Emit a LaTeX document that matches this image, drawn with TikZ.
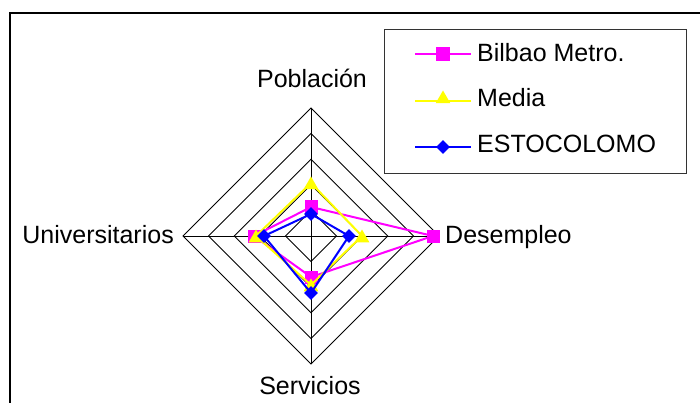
\documentclass[tikz,border=0pt]{standalone}
\usepackage{fontspec}
\setmainfont{Liberation Sans}
\usetikzlibrary{shapes.geometric}
\definecolor{cmag}{RGB}{255,0,255}
\definecolor{cyel}{RGB}{255,255,0}
\definecolor{cblu}{RGB}{0,0,255}
\begin{document}
\begin{tikzpicture}[x=1pt,y=-1pt,
  lbl/.style={font=\fontsize{25}{30}\selectfont, inner sep=0pt},
  grid/.style={line width=0.9pt, black},
  sermag/.style={line width=2pt, cmag},
  seryel/.style={line width=2pt, cyel},
  serblu/.style={line width=2pt, cblu},
  mksq/.style={rectangle, fill=cmag, minimum size=13pt, inner sep=0pt},
  mktri/.style={regular polygon, regular polygon sides=3, fill=cyel, minimum size=17pt, inner sep=0pt},
  mkdia/.style={diamond, fill=cblu, minimum width=14pt, minimum height=14pt, inner sep=0pt}]
\useasboundingbox (0,0) rectangle (700,403);
\draw[line width=1.2pt] (10,403) -- (10,13) -- (700,13);
% grid
\coordinate (c) at (311,236);
\foreach \k in {1,...,5}{
  \draw[grid] (311,{236-25.6*\k}) -- ({311+25.6*\k},236) -- (311,{236+25.6*\k}) -- ({311-25.6*\k},236) -- cycle;
}
\coordinate (top) at (311,108);
\coordinate (bot) at (311,364);
\coordinate (lft) at (183,236);
\coordinate (rgt) at (439,236);
\draw[grid] (top) -- (bot);
\draw[grid] (lft) -- (rgt);
% axis labels
\node[lbl, anchor=base] (lP) at (312,88) {Población};
\node[lbl, anchor=base east] (lU) at (174,243) {Universitarios};
\node[lbl, anchor=base west] (lD) at (445,243) {Desempleo};
\node[lbl, anchor=base] (lS) at (310,394) {Servicios};
% Bilbao
\coordinate (bP) at (311,207);
\coordinate (bD) at (433,236);
\coordinate (bS) at (311,277);
\coordinate (bU) at (254,236);
\draw[sermag] (bP) -- (bD) -- (bS) -- (bU) -- cycle;
\foreach \p in {bP,bD,bS,bU}{\node[mksq] at (\p) {};}
% Media
\coordinate (mP) at (311,183);
\coordinate (mD) at (362,236);
\coordinate (mS) at (311,285);
\coordinate (mU) at (256,236);
\draw[seryel] (mP) -- (mD) -- (mS) -- (mU) -- cycle;
\foreach \p in {mP,mD,mS,mU}{\node[mktri] at ([yshift=-2pt]\p) {};}
% Estocolmo
\coordinate (eP) at (311,214);
\coordinate (eD) at (349,236);
\coordinate (eS) at (311,293);
\coordinate (eU) at (264,236);
\draw[serblu] (eP) -- (eD) -- (eS) -- (eU) -- cycle;
\foreach \p in {eP,eD,eS,eU}{\node[mkdia] at (\p) {};}
% legend
\node[draw=black!80, line width=1pt, minimum width=302pt, minimum height=144pt, inner sep=0pt, anchor=north west] (leg) at (384,29) {};
\coordinate (l1a) at (415,54);
\coordinate (l1b) at (471,54);
\coordinate (l2a) at (415,101);
\coordinate (l2b) at (471,101);
\coordinate (l3a) at (415,147);
\coordinate (l3b) at (471,147);
\draw[sermag] (l1a) -- (l1b);
\node[mksq, minimum size=14pt] (k1) at (443,54) {};
\draw[seryel] (l2a) -- (l2b);
\node[mktri] (k2) at (443,99) {};
\draw[serblu] (l3a) -- (l3b);
\node[mkdia] (k3) at (443,147) {};
\node[lbl, anchor=base west] (t1) at (477,62) {Bilbao Metro.};
\node[lbl, anchor=base west] (t2) at (477,107) {Media};
\node[lbl, anchor=base west] (t3) at (477,153) {ESTOCOLOMO};
\end{tikzpicture}
\end{document}
